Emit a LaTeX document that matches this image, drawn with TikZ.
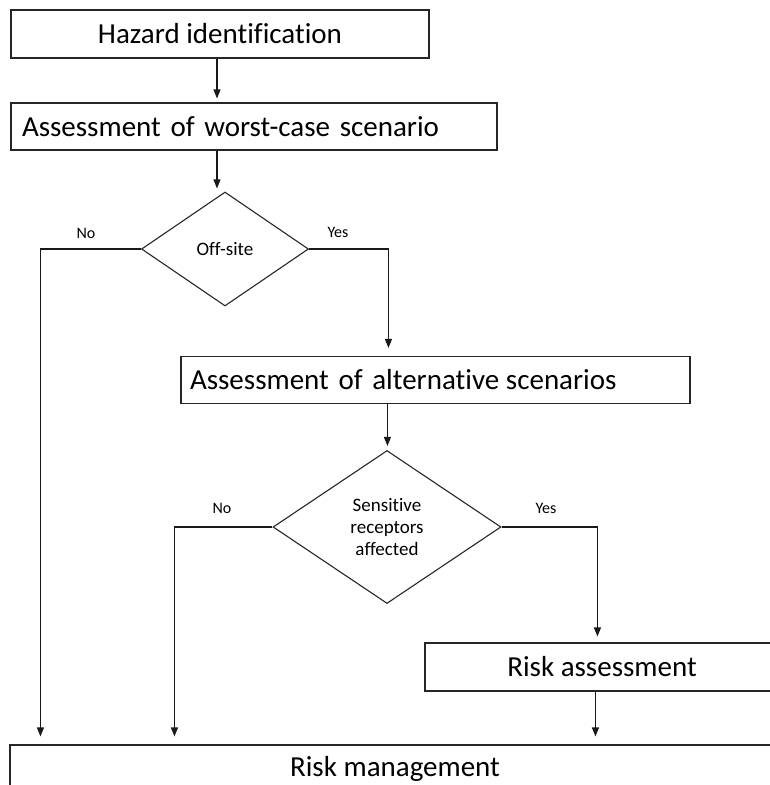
\documentclass[tikz,border=0pt]{standalone}
\usepackage{fontspec}
\setmainfont[Ligatures={NoCommon}]{Carlito}
\usetikzlibrary{shapes.geometric,arrows.meta}
\begin{document}
\begin{tikzpicture}[x=1pt,y=-1pt,
  box/.style={draw=black!85,line width=1.1pt,inner sep=0pt,minimum height=47pt,font=\fontsize{29}{34}\selectfont},
  dia/.style={draw=black!85,line width=1.1pt,diamond,inner sep=0pt,font=\fontsize{19}{22}\selectfont,align=center},
  lbl/.style={font=\fontsize{16}{19}\selectfont},
  arr/.style={draw=black!90,line width=1.1pt,-{Triangle[length=9pt,width=7pt]}}]
\useasboundingbox (0,0) rectangle (770,785);
\clip (0,0) rectangle (770,785);
\node[box,minimum width=418pt,minimum height=48pt] (hazard) at (220,34) {Hazard identification};
\node[box,text width=464pt,inner xsep=11pt,align=left] (worst) at (254,126.5) {Assessment of worst-case scenario};
\node[dia,minimum width=167pt,minimum height=114pt] (offsite) at (225,249) {Off-site};
\node[box,text width=491pt,inner xsep=9pt,align=left] (alt) at (435.5,380) {Assessment of alternative\hspace{-3pt} scenarios};
\node[dia,minimum width=228pt,minimum height=153pt] (sens) at (387,527) {Sensitive\\receptors\\affected};
\node[box,minimum width=354pt,minimum height=48pt] (riskA) at (602,667) {Risk assessment};
\node[box,minimum width=770pt,minimum height=48pt] (riskM) at (395,769) {Risk management};
\node[lbl] (no1) at (86,233) {No};
\node[lbl] (yes1) at (338,232) {Yes};
\node[lbl] (no2) at (222,508) {No};
\node[lbl] (yes2) at (546,508) {Yes};
\draw[arr,shorten >=4pt] ([xshift=-3pt]hazard.south) -- ([xshift=-3pt]hazard.south |- worst.north);
\draw[arr,shorten >=3pt] ([xshift=-37pt]worst.south) -- ([xshift=-37pt]worst.south |- offsite.north);
\draw[arr,shorten >=8pt] (offsite.west) -| ([xshift=31pt]riskM.north west);
\draw[arr,shorten >=8pt] (offsite.east) -| ([xshift=208pt]alt.north west);
\draw[arr,shorten >=4pt] ([xshift=207pt]alt.south west) -- ([xshift=207pt]alt.south west |- sens.north);
\draw[arr,shorten >=8pt] (sens.west) -| ([xshift=165pt]riskM.north west);
\draw[arr,shorten >=6pt] (sens.east) -| ([xshift=173pt]riskA.north west);
\draw[arr,shorten >=8pt] ([xshift=171pt]riskA.south west) -- ([xshift=171pt]riskA.south west |- riskM.north);
\end{tikzpicture}
\end{document}
